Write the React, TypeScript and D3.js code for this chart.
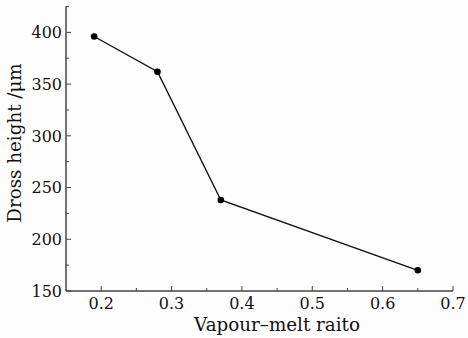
import { useRef, useEffect } from 'react';
import * as d3 from 'd3';

const ratios = [0.19, 0.28, 0.37, 0.65];
const heights = [396, 362, 238, 170];
const xTicks = [0.2, 0.3, 0.4, 0.5, 0.6, 0.7];
const yTicks = [150, 200, 250, 300, 350, 400];

export default function App() {
  const svgRef = useRef<SVGSVGElement>(null);

  useEffect(() => {
    if (!svgRef.current) return;
    const svg = d3.select(svgRef.current);
    svg.selectAll('*').remove();

    const width = 468;
    const height = 338;
    const left = 66;
    const right = 453;
    const bottom = 291;
    const top = 6.5;

    const font = '"DejaVu Serif", serif';
    const axisColor = '#444';

    svg.attr('width', width).attr('height', height);
    svg.append('rect').attr('width', width).attr('height', height).attr('fill', '#fdfdfd');

    const x = d3.scaleLinear().domain([0.15, 0.7]).range([left, right]);
    const y = d3.scaleLinear().domain([150, 425]).range([bottom, top]);

    // Y axis (ticks inward)
    const gy = svg.append('g').attr('transform', `translate(${left},0)`);
    gy.append('line')
      .attr('x1', 0).attr('x2', 0)
      .attr('y1', y(425)).attr('y2', y(150))
      .attr('stroke', axisColor).attr('stroke-width', 1.5);
    const yMinor = d3.range(175, 426, 50);
    gy.selectAll('.minor')
      .data(yMinor)
      .enter()
      .append('line')
      .attr('x1', 0).attr('x2', 3)
      .attr('y1', (d) => y(d)).attr('y2', (d) => y(d))
      .attr('stroke', axisColor).attr('stroke-width', 1);
    gy.selectAll('.major')
      .data(yTicks)
      .enter()
      .append('line')
      .attr('x1', 0).attr('x2', 5)
      .attr('y1', (d) => y(d)).attr('y2', (d) => y(d))
      .attr('stroke', axisColor).attr('stroke-width', 1);
    gy.selectAll('text')
      .data(yTicks)
      .enter()
      .append('text')
      .attr('x', -4)
      .attr('y', (d) => y(d))
      .attr('dy', '0.36em')
      .attr('text-anchor', 'end')
      .attr('font-family', font)
      .attr('font-size', '16px')
      .attr('fill', '#111')
      .text((d) => d);

    // X axis (ticks inward)
    const gx = svg.append('g').attr('transform', `translate(0,${bottom})`);
    gx.append('line')
      .attr('x1', x(0.15)).attr('x2', x(0.7))
      .attr('y1', 0).attr('y2', 0)
      .attr('stroke', axisColor).attr('stroke-width', 1.5);
    const xMinor = [0.25, 0.35, 0.45, 0.55, 0.65];
    gx.selectAll('.minor')
      .data(xMinor)
      .enter()
      .append('line')
      .attr('x1', (d) => x(d)).attr('x2', (d) => x(d))
      .attr('y1', 0).attr('y2', -3)
      .attr('stroke', axisColor).attr('stroke-width', 1);
    gx.selectAll('.major')
      .data(xTicks)
      .enter()
      .append('line')
      .attr('x1', (d) => x(d)).attr('x2', (d) => x(d))
      .attr('y1', 0).attr('y2', -5)
      .attr('stroke', axisColor).attr('stroke-width', 1);
    gx.selectAll('text')
      .data(xTicks)
      .enter()
      .append('text')
      .attr('x', (d) => x(d))
      .attr('y', 18)
      .attr('text-anchor', 'middle')
      .attr('font-family', font)
      .attr('font-size', '16px')
      .attr('fill', '#111')
      .text((d) => d3.format('.1f')(d));

    // Axis titles
    svg.append('text')
      .attr('x', 277)
      .attr('y', 331)
      .attr('text-anchor', 'middle')
      .attr('font-family', font)
      .attr('font-size', '18.3px')
      .attr('fill', '#111')
      .text('Vapour\u2013melt raito');
    svg.append('text')
      .attr('transform', `translate(21,${143}) rotate(-90)`)
      .attr('text-anchor', 'middle')
      .attr('font-family', font)
      .attr('font-size', '18.3px')
      .attr('fill', '#111')
      .text('Dross height /\u03bcm');

    // Line and points
    const pts = ratios.map((r, i) => [r, heights[i]] as [number, number]);
    const line = d3.line<[number, number]>().x((d) => x(d[0])).y((d) => y(d[1]));
    svg.append('path')
      .attr('d', line(pts))
      .attr('fill', 'none')
      .attr('stroke', '#111')
      .attr('stroke-width', 1.4);
    svg.selectAll('circle')
      .data(pts)
      .enter()
      .append('circle')
      .attr('cx', (d) => x(d[0]))
      .attr('cy', (d) => y(d[1]))
      .attr('r', 3.3)
      .attr('fill', '#000');
  }, []);

  return (
    <div style={{ position: 'fixed', left: 0, top: 0 }}>
      <svg ref={svgRef} style={{ display: 'block' }} />
    </div>
  );
}
